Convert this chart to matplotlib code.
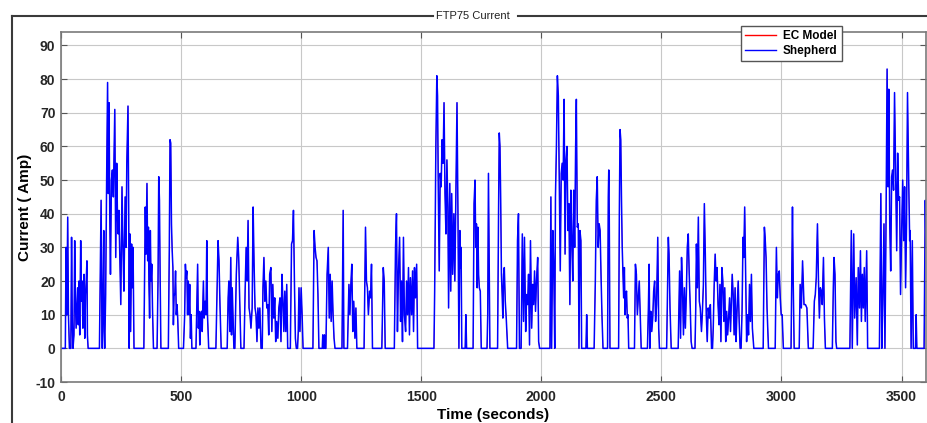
import matplotlib
matplotlib.use("Agg")
import matplotlib.pyplot as plt
from matplotlib.lines import Line2D

plt.rcParams['font.family'] = ['Liberation Sans', 'DejaVu Sans']
plt.rcParams['axes.unicode_minus'] = False

# FTP75 current trace (seconds, amps), one row per burst
time_s = [
    0, 18, 21, 24, 28, 31, 35, 41, 44, 47, 50, 54, 57, 60, 63, 66, 69, 72, 75, 78, 82, 85, 88, 91, 94, 96, 99, 102, 105, 108, 110, 113,
    160, 167, 170, 172, 175, 178, 180, 182, 186, 190, 194, 197, 200, 203, 206, 210, 214, 218, 224, 228, 232, 235, 238, 241, 244, 249, 254, 258, 262, 267, 271, 274, 279, 282, 284, 287, 290, 294, 297, 300, 304,
    345, 351, 354, 358, 361, 364, 366, 369, 372, 375, 378, 381, 385,
    400, 404, 407, 410, 413, 416,
    447, 451, 454, 457, 460, 463, 466, 468, 471, 474, 477, 480, 483, 486, 490,
    510, 515, 518, 521, 524, 527, 530, 533, 536, 539, 542, 545,
    562, 569, 572, 575, 578, 581, 585, 588, 593, 596, 600, 604, 607, 610, 615,
    645, 650, 654, 658, 662, 667,
    692, 696, 699, 703, 707, 710, 713, 716, 720,
    724, 730, 736, 740, 744, 749,
    762, 767, 771, 775, 779, 783, 787, 791, 796, 800, 804, 808, 812, 816, 820, 824, 828, 833,
    838, 841, 845, 849, 853, 857, 861, 865, 869, 874, 878, 882, 886, 890, 894, 898, 903, 907, 912, 916, 920, 924, 928, 932, 936, 940, 944,
    955, 960, 964, 968, 972, 976, 980, 985, 988, 991, 995, 1000, 1004, 1008,
    1049, 1054, 1058, 1062, 1066, 1070, 1074, 1088, 1090, 1092, 1095, 1097, 1099,
    1103, 1108, 1113, 1117, 1121, 1125, 1129, 1133, 1137, 1141,
    1170, 1175, 1178,
    1193, 1199, 1203, 1207, 1211, 1215, 1219, 1224, 1228, 1232,
    1262, 1268, 1272, 1276, 1280, 1285, 1289, 1293, 1297,
    1336, 1342, 1346, 1350,
    1388, 1393, 1397, 1401, 1405, 1410, 1414, 1418, 1422, 1426, 1430, 1435, 1439, 1443, 1447, 1451, 1455, 1460, 1464, 1468, 1472, 1476, 1481, 1485,
    1553, 1556, 1561, 1565, 1568, 1571, 1575, 1579, 1583, 1587, 1591, 1595, 1599, 1603, 1607, 1611, 1614, 1619, 1623, 1627, 1631, 1636, 1640, 1645, 1649, 1653, 1657, 1661, 1664, 1666, 1669, 1683, 1686, 1689,
    1716, 1720, 1724, 1727, 1730, 1733, 1736, 1739, 1742, 1746, 1750,
    1774, 1777, 1780, 1783, 1786,
    1818, 1822, 1825, 1828, 1831, 1834, 1837, 1840, 1843, 1846, 1850, 1854, 1860,
    1897, 1901, 1905, 1909, 1916, 1921, 1926, 1930, 1935, 1939, 1943, 1947, 1951, 1955, 1960, 1964, 1968, 1972, 1976, 1980, 1985, 1989, 1993,
    2036, 2040, 2043, 2048, 2052, 2056, 2059, 2063, 2067, 2071, 2075, 2079, 2083, 2087, 2091, 2095, 2099, 2103, 2107, 2111, 2115, 2119, 2123, 2127, 2131, 2135, 2139, 2143, 2146, 2150, 2154, 2157, 2161, 2165, 2168, 2186, 2189, 2192,
    2220, 2225, 2229, 2233, 2237, 2241, 2245, 2249, 2253, 2257, 2276, 2279, 2281, 2283, 2286,
    2322, 2325, 2328, 2331, 2334, 2337, 2340, 2343, 2346, 2349, 2352, 2355, 2358, 2361, 2364,
    2388, 2392, 2396, 2400, 2404, 2408, 2412, 2416,
    2442, 2446, 2449, 2452, 2456, 2460, 2464, 2468, 2472, 2476, 2480, 2485, 2489, 2492,
    2522, 2526, 2529, 2532, 2536, 2541,
    2570, 2576, 2580, 2584, 2588, 2592, 2596, 2600, 2604, 2608, 2612, 2616, 2620, 2624, 2628,
    2640, 2643, 2646, 2650, 2654, 2658, 2662, 2667, 2671, 2675, 2679, 2683, 2687, 2691, 2695, 2700, 2704, 2709,
    2713, 2716, 2720, 2724, 2728, 2732, 2736, 2740, 2744, 2748, 2752, 2756, 2760, 2764, 2768, 2772, 2776, 2780, 2784, 2788, 2795, 2799, 2803, 2807, 2811, 2815, 2820, 2824, 2828,
    2832, 2836, 2840, 2843, 2847, 2851, 2855, 2859, 2863, 2867, 2871, 2875, 2879, 2885,
    2924, 2929, 2932, 2936, 2940, 2946,
    2974, 2979, 2983, 2987, 2991, 2995, 2999, 3003, 3008,
    3040, 3043, 3046, 3049, 3053,
    3074, 3078, 3083, 3088, 3094, 3100, 3106, 3112,
    3132, 3137, 3141, 3145, 3150, 3154, 3158, 3162, 3166, 3170, 3175, 3179, 3183,
    3212, 3216, 3219, 3223, 3227, 3230,
    3285, 3291, 3295, 3301, 3305, 3311, 3316, 3320, 3325, 3329, 3333, 3337, 3341, 3345, 3349, 3355, 3359,
    3408, 3414, 3418, 3422, 3427, 3431, 3435, 3440, 3444, 3447, 3451, 3455, 3459, 3463, 3467, 3471, 3476, 3480, 3484, 3488, 3492, 3496, 3501, 3505, 3509, 3513, 3517, 3521, 3525, 3530, 3534, 3536, 3540, 3545, 3549,
    3558, 3561, 3564,
    3594, 3599, 3602,
]
current_a = [
    0, 0, 30, 10, 39, 10, 0, 0, 33, 8, 0, 4, 32, 14, 6, 12, 18, 7, 20, 4, 32, 14, 20, 6, 13, 22, 3, 16, 20, 26, 4, 0,
    0, 44, 10, 0, 15, 35, 5, 0, 16, 50, 79, 46, 73, 40, 22, 50, 53, 45, 71, 27, 55, 40, 34, 41, 30, 13, 48, 30, 17, 45, 30, 55, 72, 40, 0, 34, 5, 31, 18, 30, 0,
    0, 42, 28, 49, 26, 36, 20, 9, 35, 20, 25, 12, 0,
    0, 20, 51, 44, 20, 0,
    0, 30, 62, 61, 37, 29, 24, 7, 16, 16, 23, 10, 13, 9, 0,
    0, 10, 25, 21, 23, 10, 20, 10, 19, 3, 10, 0,
    0, 25, 6, 11, 1, 10, 11, 5, 20, 9, 14, 10, 32, 10, 0,
    0, 18, 32, 26, 13, 0,
    0, 15, 20, 5, 27, 4, 18, 10, 0,
    0, 22, 33, 27, 15, 0,
    0, 18, 30, 20, 38, 12, 10, 6, 12, 42, 25, 12, 10, 2, 12, 6, 12, 0,
    0, 18, 27, 14, 20, 12, 13, 4, 22, 24, 5, 19, 9, 15, 2, 8, 3, 12, 15, 2, 22, 14, 5, 17, 5, 19, 0,
    0, 31, 32, 41, 20, 3, 0, 0, 5, 18, 5, 18, 10, 0,
    0, 35, 30, 27, 26, 16, 0, 0, 4, 0, 0, 4, 0,
    0, 22, 30, 9, 22, 8, 20, 10, 3, 0,
    0, 41, 0,
    0, 19, 10, 19, 25, 5, 14, 3, 12, 0,
    0, 36, 20, 18, 10, 17, 15, 25, 0,
    0, 24, 20, 0,
    0, 30, 40, 5, 22, 33, 8, 20, 2, 33, 10, 5, 20, 10, 24, 4, 21, 10, 23, 5, 24, 15, 25, 0,
    0, 17, 60, 81, 75, 48, 23, 52, 48, 62, 55, 73, 46, 34, 56, 42, 12, 49, 17, 46, 22, 40, 20, 50, 73, 40, 0, 35, 24, 30, 0, 0, 10, 0,
    0, 43, 50, 30, 37, 18, 36, 22, 18, 17, 0,
    0, 10, 52, 25, 0,
    0, 40, 64, 60, 44, 22, 16, 9, 22, 24, 14, 9, 0,
    0, 32, 40, 0, 0, 34, 8, 33, 5, 16, 13, 22, 1, 32, 6, 19, 13, 23, 11, 20, 27, 2, 0,
    0, 45, 0, 35, 24, 0, 45, 60, 81, 75, 48, 23, 52, 55, 50, 74, 28, 56, 60, 35, 43, 13, 47, 32, 20, 47, 30, 60, 74, 36, 37, 0, 35, 32, 0, 0, 10, 0,
    0, 20, 44, 51, 30, 37, 35, 21, 9, 0, 0, 45, 53, 40, 0,
    0, 40, 65, 62, 44, 30, 22, 15, 24, 10, 16, 17, 9, 10, 0,
    0, 25, 22, 10, 15, 20, 10, 0,
    0, 12, 25, 0, 11, 5, 9, 17, 20, 8, 13, 33, 6, 0,
    0, 20, 33, 28, 12, 0,
    0, 23, 3, 27, 18, 4, 18, 6, 16, 30, 34, 22, 13, 2, 0,
    0, 11, 31, 18, 39, 14, 12, 5, 11, 19, 43, 28, 10, 2, 12, 9, 13, 0,
    0, 6, 19, 28, 20, 24, 13, 7, 19, 2, 24, 20, 8, 18, 2, 11, 4, 9, 15, 5, 22, 16, 4, 18, 2, 11, 20, 8, 0,
    0, 11, 33, 27, 42, 22, 2, 10, 4, 19, 8, 22, 6, 0,
    0, 36, 33, 27, 12, 0,
    0, 30, 15, 22, 23, 15, 10, 10, 0,
    0, 20, 42, 20, 0,
    0, 19, 12, 26, 13, 13, 12, 0,
    0, 14, 16, 21, 37, 21, 9, 18, 17, 13, 27, 9, 0,
    0, 18, 27, 22, 2, 0,
    0, 35, 0, 34, 9, 21, 1, 24, 12, 29, 8, 22, 12, 24, 8, 29, 0,
    0, 46, 0, 13, 37, 0, 32, 83, 48, 77, 37, 23, 51, 53, 47, 76, 50, 29, 58, 44, 45, 16, 36, 50, 32, 48, 18, 37, 76, 50, 32, 35, 0, 32, 0,
    0, 10, 0,
    0, 44, 30,
]

series_names = ['EC Model', 'Shepherd']
series_colors = ['#ff0000', '#0000ff']
series_widths = [0.4, 1.1]
x_ticks = [0, 500, 1000, 1500, 2000, 2500, 3000, 3500]
y_ticks = list(range(-10, 91, 10))

W, H = 927, 423
fig = plt.figure(figsize=(W / 100, H / 100), dpi=100)
ax = fig.add_axes([61 / W, 41 / H, 865 / W, 350 / H])

# EC model sits exactly under the Shepherd trace, so only blue shows
for name, col, lw in zip(series_names, series_colors, series_widths):
    ax.plot(time_s, current_a, color=col, lw=lw)
    ax.plot([], [], color=col, lw=1.0, label=name)

ax.set_xlim(0, time_s[-1])
ax.set_ylim(-10, 94)
ax.set_xticks(x_ticks)
ax.set_yticks(y_ticks)
ax.grid(True, color='#c8c8c8', lw=0.8)
ax.set_axisbelow(True)
ax.tick_params(direction='in', length=4, width=0.8, color='#555555', top=True, right=True,
               labelsize=10, labelcolor='#262626')
ax.tick_params(axis='x', pad=6)
ax.tick_params(axis='y', pad=4)
for lab in ax.get_xticklabels() + ax.get_yticklabels():
    lab.set_fontweight('bold')
for sp in ax.spines.values():
    sp.set_color('#7a7a7a')
    sp.set_linewidth(1.2)

ax.set_xlabel('Time (seconds)', fontsize=11, fontweight='bold')
ax.set_ylabel('Current ( Amp)', fontsize=11, fontweight='bold')
ax.xaxis.set_label_coords(0.5, -26 / 350)
ax.yaxis.set_label_coords(-29 / 865, 0.5)

leg = fig.legend(loc='upper left', bbox_to_anchor=(741 / W, 1 - 26 / H),
                 prop={'weight': 'bold', 'size': 8.5}, frameon=True, fancybox=False,
                 edgecolor='#555555', framealpha=1, borderpad=0.35, handlelength=2.6,
                 handletextpad=0.6, labelspacing=0.25, borderaxespad=0)
leg.get_frame().set_linewidth(1.0)

# panel frame with the title sitting in its top edge
top = 1 - 16 / H
fig.add_artist(Line2D([12 / W, 433 / W], [top, top], transform=fig.transFigure, color='#3a3a3a', lw=1.5))
fig.add_artist(Line2D([518 / W, 1], [top, top], transform=fig.transFigure, color='#3a3a3a', lw=1.5))
fig.add_artist(Line2D([12 / W, 12 / W], [0, top], transform=fig.transFigure, color='#3a3a3a', lw=1.5))
fig.text(473 / W, top, 'FTP75 Current', ha='center', va='center', fontsize=8, color='#222222')

fig.savefig('out.png', dpi=100)
